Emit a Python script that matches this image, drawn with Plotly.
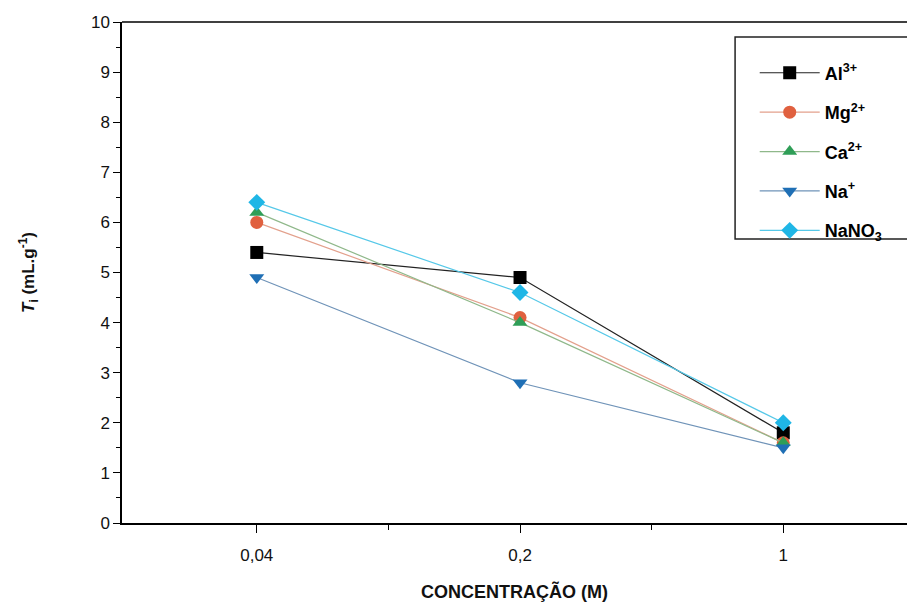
import plotly.graph_objects as go

# Concentration levels (categorical axis) and T_i values per electrolyte
concentracoes = ["0,04", "0,2", "1"]
al3 = [5.4, 4.9, 1.8]
mg2 = [6.0, 4.1, 1.6]
ca2 = [6.2, 4.0, 1.6]
na1 = [4.9, 2.8, 1.5]
nano3 = [6.4, 4.6, 2.0]

x_pos = list(range(len(concentracoes)))

series = [
    ("Al<sup>3+</sup>", al3, "square", "#000000", "#222222"),
    ("Mg<sup>2+</sup>", mg2, "circle", "#e0603f", "#e3a08c"),
    ("Ca<sup>2+</sup>", ca2, "triangle-up", "#2f9e57", "#8fb88a"),
    ("Na<sup>+</sup>", na1, "triangle-down", "#1f6fb5", "#6f93b8"),
    ("NaNO<sub>3</sub>", nano3, "diamond", "#1fb6e6", "#55c8e8"),
]

fig = go.Figure()
for i, (name, vals, sym, mcol, lcol) in enumerate(series):
    fig.add_trace(go.Scatter(
        x=x_pos, y=vals, name="<b>" + name + "</b>", mode="lines+markers",
        legendgroup=f"g{i}",
        line=dict(color=lcol, width=1.2),
        marker=dict(symbol=sym, size=13, color=mcol, line=dict(width=0)),
    ))

fig.update_layout(
    width=907, height=602,
    margin=dict(l=122, r=0, t=22, b=79),
    paper_bgcolor="white", plot_bgcolor="white",
    font=dict(family="Liberation Sans, Arial, sans-serif", size=17, color="#111"),
    showlegend=True,
    legend=dict(
        x=0.806, y=0.935, xanchor="left", yanchor="top",
        bgcolor="rgba(0,0,0,0)", borderwidth=0,
        font=dict(size=18, family="Liberation Sans, Arial, sans-serif", color="#000"),
        itemwidth=60, tracegroupgap=13,
    ),
    xaxis=dict(
        range=[-0.512, 2.47], tickmode="array", tickvals=x_pos, ticktext=concentracoes,
        showline=True, linecolor="#000", linewidth=1.5, showgrid=False, zeroline=False,
        ticks="outside", ticklen=8, tickwidth=1.3, tickcolor="#000", ticklabelstandoff=8,
        minor=dict(tickvals=[0.5, 1.5], ticks="outside", ticklen=5, tickwidth=1.3, tickcolor="#000"),
        title=dict(text="<b>CONCENTRAÇÃO (M)</b>", font=dict(size=18), standoff=22),
    ),
    yaxis=dict(
        range=[0, 10], dtick=1, tick0=0,
        showline=True, linecolor="#000", linewidth=1.5, showgrid=False, zeroline=False,
        ticks="outside", ticklen=7, tickwidth=1.3, tickcolor="#000",
        minor=dict(dtick=0.5, ticks="outside", ticklen=4, tickwidth=1.3, tickcolor="#000"),
        title=dict(text="<b><i>T</i><sub>i</sub> (mL.g<sup>-1</sup>)</b>", font=dict(size=17), standoff=52),
    ),
    shapes=[
        # top frame line
        dict(type="line", xref="paper", yref="paper", x0=0, x1=1, y0=1, y1=1,
             line=dict(color="#000", width=1.5)),
        # legend frame, running off the right edge
        dict(type="rect", xref="paper", yref="paper", x0=0.781, x1=1.01, y0=0.567, y1=0.97,
             line=dict(color="#222", width=1.5), fillcolor="white", layer="below"),
    ],
)

fig.write_html("out.html")
